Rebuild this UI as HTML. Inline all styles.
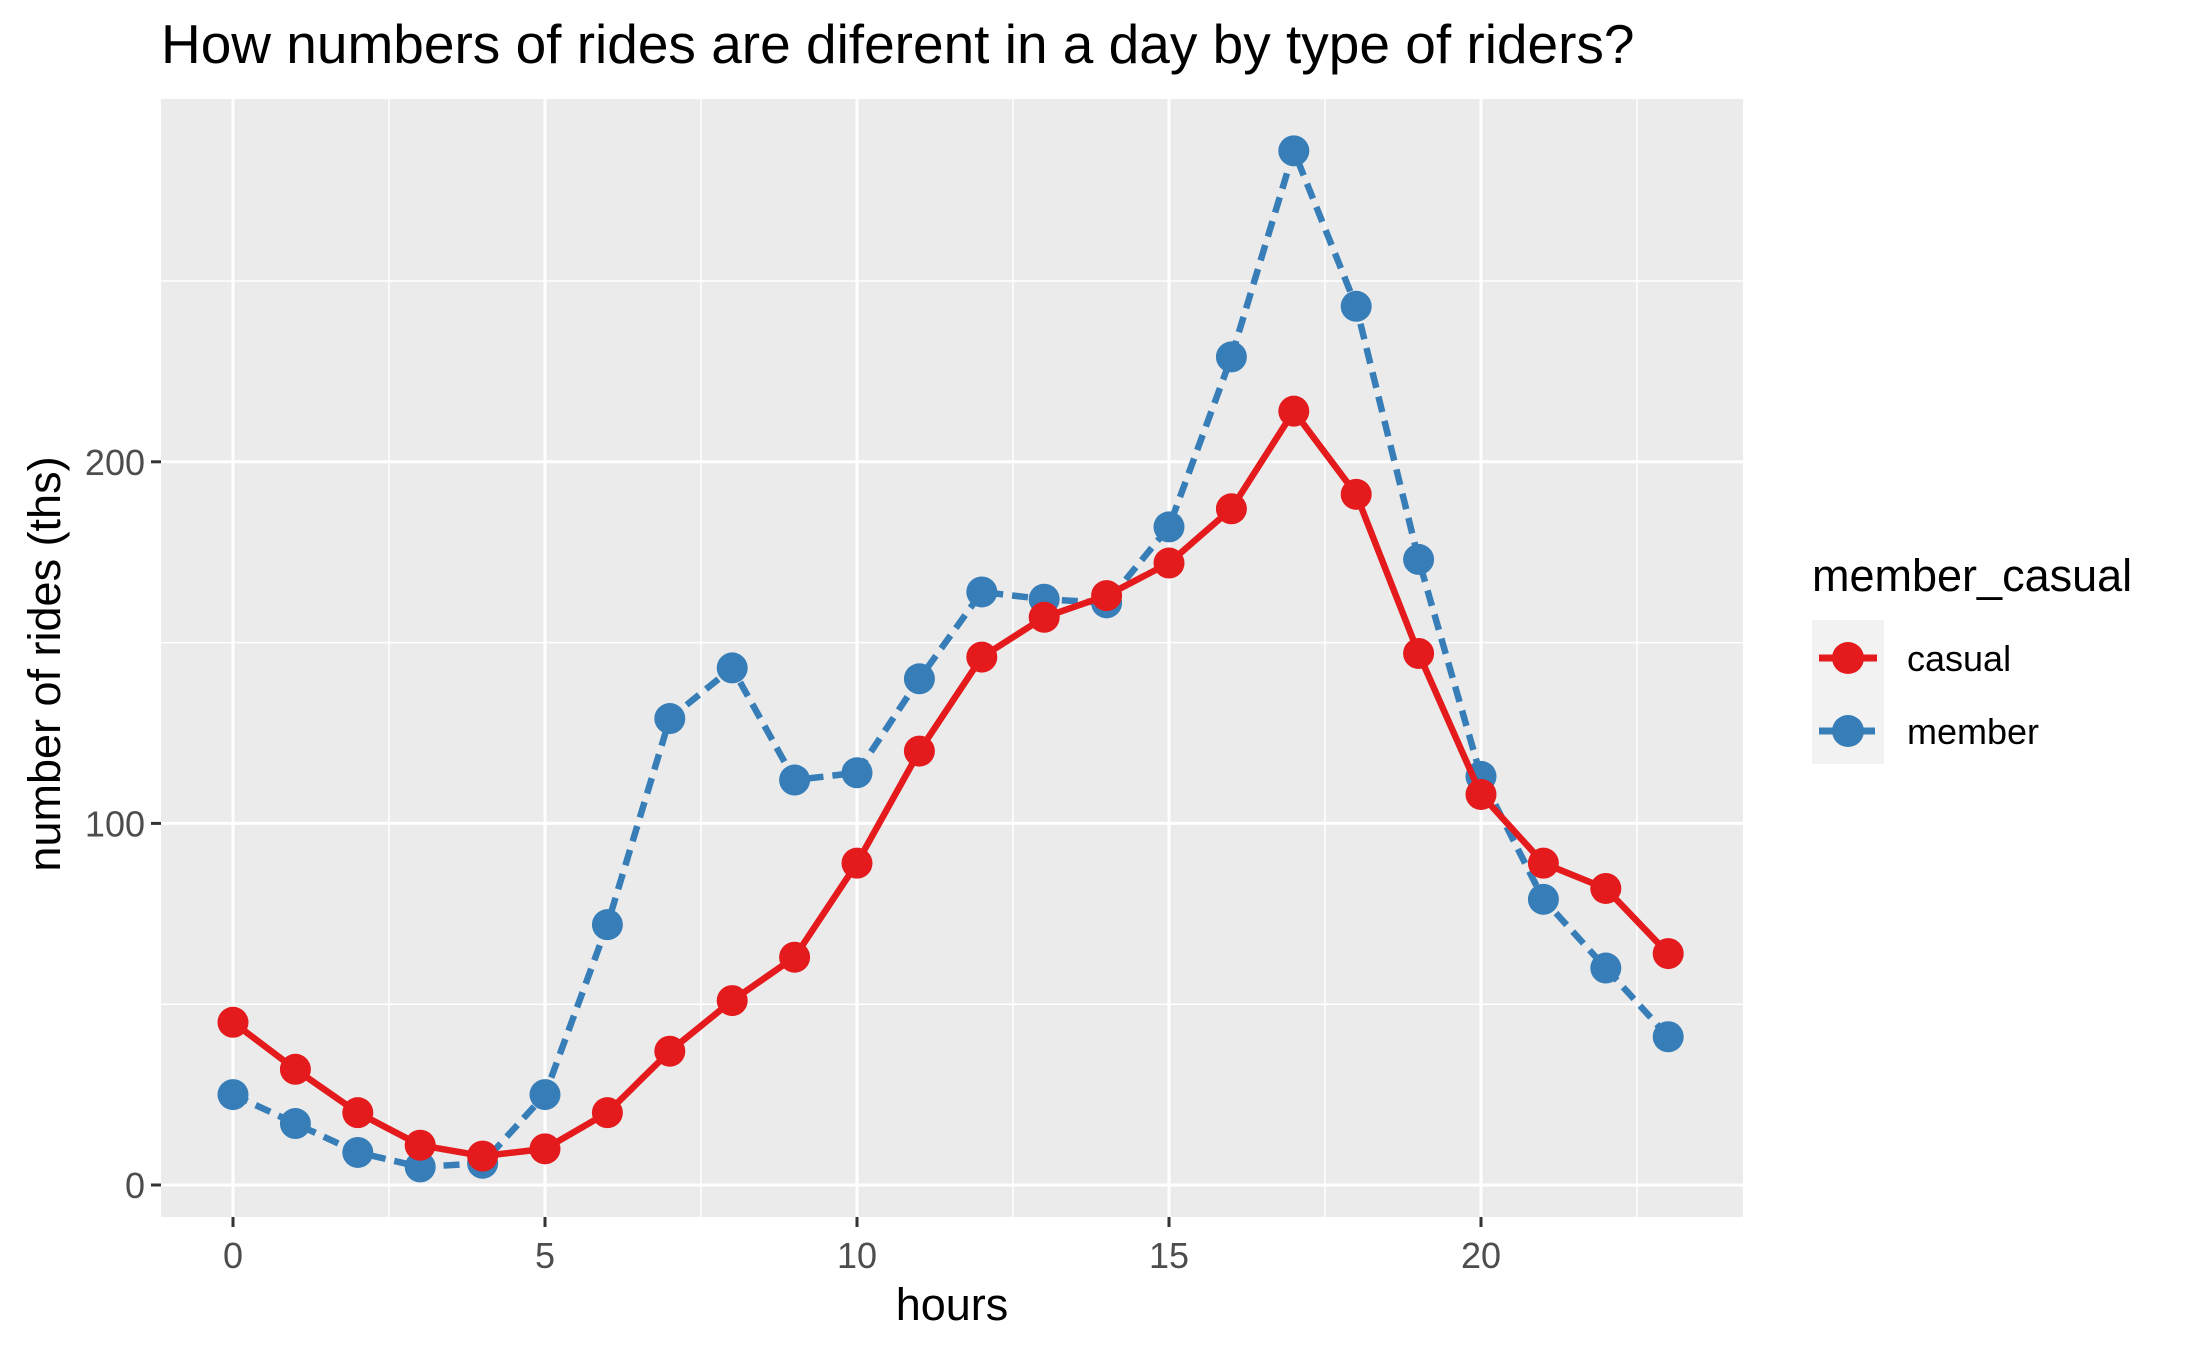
<!DOCTYPE html>
<html><head><meta charset="utf-8"><style>
body{margin:0;background:#fff;}
svg text{font-family:"Liberation Sans",Arial,sans-serif;}
</style></head><body>
<svg id="chart" width="2187" height="1350" xmlns="http://www.w3.org/2000/svg">
<rect width="2187" height="1350" fill="#fff"/>
<text x="161" y="63" font-size="55" fill="#000">How numbers of rides are diferent in a day by type of riders?</text>
<rect x="161" y="99" width="1582" height="1118" fill="#ebebeb"/>
<g id="grid"></g>
<g id="axes"></g>
<g id="series"></g>
<text x="952" y="1320" font-size="45" text-anchor="middle" fill="#000">hours</text>
<text transform="translate(60,664) rotate(-90)" font-size="45" text-anchor="middle" fill="#000">number of rides (ths)</text>
<g>
<text x="1812" y="591" font-size="45" fill="#000">member_casual</text>
<rect x="1812" y="620" width="72" height="144" fill="#f2f2f2"/>
<g>
<line x1="1819" y1="658" x2="1877" y2="658" stroke="#e41a1c" stroke-width="7"/>
<circle cx="1848" cy="658" r="16" fill="#e41a1c"/>
<text x="1907" y="671" font-size="36" fill="#000">casual</text>
</g>
<g>
<line x1="1819" y1="731" x2="1877" y2="731" stroke="#377eb8" stroke-width="7" stroke-dasharray="14,7"/>
<circle cx="1848" cy="731" r="16" fill="#377eb8"/>
<text x="1907" y="744" font-size="36" fill="#000">member</text>
</g>
</g>
</svg>
<script>
const hours = [0,1,2,3,4,5,6,7,8,9,10,11,12,13,14,15,16,17,18,19,20,21,22,23];
const casual = [45,32,20,11,8,10,20,37,51,63,89,120,146,157,163,172,187,214,191,147,108,89,82,64];
const member = [25,17,9,5,6,25,72,129,143,112,114,140,164,162,161,182,229,286,243,173,113,79,60,41];
const xTicks = [0,5,10,15,20];
const yTicks = [0,100,200];
const yMinor = [50,150,250];
const xMinor = [2.5,7.5,12.5,17.5,22.5];

const NS='http://www.w3.org/2000/svg';
const px0=161, px1=1743, py0=99, py1=1217;
function xs(v){return 233 + v*62.4;}
function ys(v){return 1185 - v*3.616;}
function mk(tag, attrs, parent){const e=document.createElementNS(NS,tag);for(const k in attrs)e.setAttribute(k,attrs[k]);parent.appendChild(e);return e;}
const grid=document.getElementById('grid'), axes=document.getElementById('axes'), series=document.getElementById('series');
yMinor.forEach(v=>{const l=mk('line',{x1:px0,x2:px1,y1:ys(v),y2:ys(v),stroke:'#fff','stroke-width':1.5},grid);

});
xMinor.forEach(v=>{const l=mk('line',{x1:xs(v),x2:xs(v),y1:py0,y2:py1,stroke:'#fff','stroke-width':1.5},grid);

});
yTicks.forEach(v=>{const l=mk('line',{x1:px0,x2:px1,y1:ys(v),y2:ys(v),stroke:'#fff','stroke-width':3},grid);


const t=mk('line',{x1:px0-10,x2:px0,y1:ys(v),y2:ys(v),stroke:'#333','stroke-width':3},axes);


const tx=mk('text',{x:px0-16,y:ys(v)+13,'font-size':36,'text-anchor':'end',fill:'#4d4d4d'},axes);tx.textContent=v;

});
xTicks.forEach(v=>{const l=mk('line',{x1:xs(v),x2:xs(v),y1:py0,y2:py1,stroke:'#fff','stroke-width':3},grid);


const t=mk('line',{x1:xs(v),x2:xs(v),y1:py1,y2:py1+10,stroke:'#333','stroke-width':3},axes);


const tx=mk('text',{x:xs(v),y:1268,'font-size':36,'text-anchor':'middle',fill:'#4d4d4d'},axes);tx.textContent=v;

});
function draw(vals,color,dash,name){
 const pts=hours.map((h,i)=>xs(h)+','+ys(vals[i])).join(' ');
 const a={points:pts,fill:'none',stroke:color,'stroke-width':6.5,'stroke-linejoin':'round'};
 if(dash)a['stroke-dasharray']=dash;
 const pl=mk('polyline',a,series);
 
 
 hours.forEach((h,i)=>{const c=mk('circle',{cx:xs(h),cy:ys(vals[i]),r:15.5,fill:color},series);
 
 });
}
draw(member,'#377eb8','16,9','member');
draw(casual,'#e41a1c',null,'casual');
</script>
</body></html>
